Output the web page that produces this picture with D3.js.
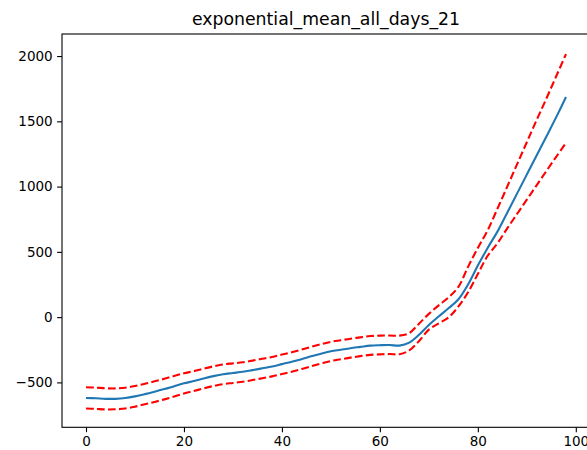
<!DOCTYPE html>
<html lang="en">
<head>
  <title>exponential_mean_all_days_21</title>
  <meta http-equiv="content-type" content="text/html; charset=utf-8" />
<style>

body {
	margin:0px;
	background:#fff;
	font-family: 'DejaVu Sans', sans-serif;
}

svg {
	display:block;
}

.axis text {
	font-family: 'DejaVu Sans', sans-serif;
	font-size:13.5px;
	fill:#000;
}

.axis line {
	stroke:#000;
	stroke-width:1.1px;
}

.domain {
	display:none;
}

#title {
	font-family: 'DejaVu Sans', sans-serif;
	font-size:17.3px;
	fill:#000;
}

</style>
</head>

<body>
	<svg width="587" height="450"></svg>

	<script src="https://cdnjs.cloudflare.com/ajax/libs/d3/7.8.5/d3.min.js"></script>

	<script>

	// x positions (days) and the three series
	var days = [0,2,4,6,8,10,12,14,16,18,20,22,24,26,28,30,32,34,36,38,40,42,44,46,48,
		50,52,54,56,58,60,62,64,66,68,70,72,74,76,78,80,82,84,86,88,90,92,94,96,98];

	var meanValues = [-619,-622,-626,-626,-620,-607,-590,-571,-551,-529,-507,-490,-470,-452,-437,-428,-419,-406,-392,-378,-360,
		-342,-322,-300,-280,-262,-250,-238,-228,-218,-215,-214,-218,-195,-135,-60,5,68,135,250,
		395,530,655,800,946,1092,1238,1384,1532,1686];

	var upperValues = [-537,-540,-545,-546,-541,-528,-511,-492,-472,-451,-430,-414,-395,-377,-362,-354,-346,-333,-319,-305,-287,
		-269,-249,-227,-207,-189,-177,-165,-155,-145,-142,-141,-142,-122,-50,25,90,150,230,385,
		530,665,830,1000,1170,1340,1510,1675,1845,2015];

	var lowerValues = [-700,-703,-707,-706,-700,-686,-668,-650,-630,-608,-585,-566,-546,-528,-513,-504,-495,-482,-468,-454,-436,
		-418,-398,-376,-355,-336,-323,-310,-299,-289,-285,-283,-284,-255,-183,-96,-48,-3,80,190,
		330,470,565,680,790,900,1010,1120,1228,1335];

	var xTicks = [0,20,40,60,80,100];
	var yTicks = [-500,0,500,1000,1500,2000];

	var chartTitle = "exponential_mean_all_days_21";

	function drawGraphic() {

		var svg = d3.select("svg"),
			margin = {top: 34, right: -3, bottom: 22.7, left: 62};

		var width = +svg.attr("width") - margin.left - margin.right,
			height = +svg.attr("height") - margin.top - margin.bottom;

		var x = d3.scaleLinear()
			.domain([-4.9, 102.9])
			.range([0, width]);

		var y = d3.scaleLinear()
			.domain([-844, 2169])
			.range([height, 0]);

		var g = svg.append("g")
			.attr("transform", "translate(" + margin.left + "," + margin.top + ")");

		g.append("clipPath")
			.attr("id", "clip")
			.append("rect")
			.attr("width", width)
			.attr("height", height);

		g.append("g")
			.attr("class", "axis axis--x")
			.attr("transform", "translate(0," + height + ")")
			.call(d3.axisBottom(x).tickValues(xTicks).tickSize(4.9).tickPadding(4.4).tickFormat(d3.format("d")));

		g.append("g")
			.attr("class", "axis axis--y")
			.call(d3.axisLeft(y).tickValues(yTicks).tickSize(4.9).tickPadding(4.4)
				.tickFormat(function(d) { return d < 0 ? "\u2212" + Math.abs(d) : d; }));

		var line = d3.line()
			.x(function(d) { return x(d[0]); })
			.y(function(d) { return y(d[1]); })
			.curve(d3.curveCatmullRom);

		var lines = g.append("g").attr("clip-path", "url(#clip)");

		lines.append("path")
			.datum(d3.zip(days, meanValues))
			.attr("d", line)
			.attr("fill", "none")
			.attr("stroke", "#1f77b4")
			.attr("stroke-width", 2.1);

		[upperValues, lowerValues].forEach(function(vals) {
			lines.append("path")
				.datum(d3.zip(days, vals))
				.attr("d", line)
				.attr("fill", "none")
				.attr("stroke", "#ff0000")
				.attr("stroke-width", 2.1)
				.attr("stroke-dasharray", "7.7,3.3");
		});

		// frame
		g.append("rect")
			.attr("width", width)
			.attr("height", height)
			.attr("fill", "none")
			.attr("stroke", "#000")
			.attr("stroke-width", 1.1);

		svg.append("text")
			.attr("id", "title")
			.attr("x", margin.left + width / 2)
			.attr("y", 25)
			.attr("text-anchor", "middle")
			.text(chartTitle);
	}

	drawGraphic();

	</script>
</body>
</html>
